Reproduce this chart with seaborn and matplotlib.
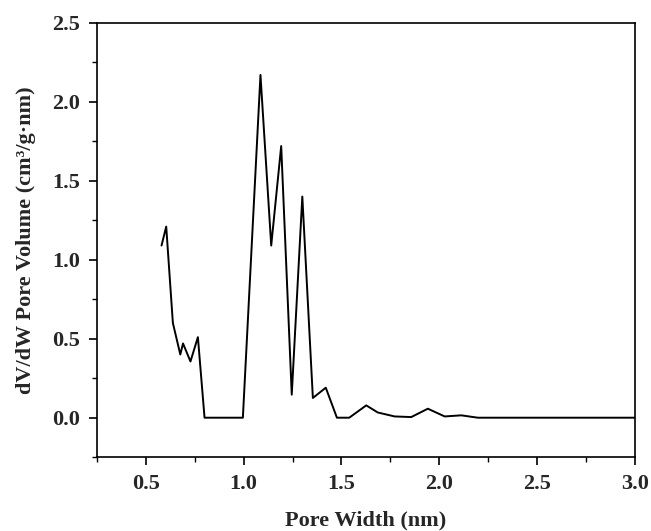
import matplotlib
matplotlib.use("Agg")
import matplotlib.pyplot as plt
import seaborn as sns
import pandas as pd
from matplotlib.ticker import MultipleLocator

pore_width = [0.58, 0.604, 0.638, 0.676, 0.69, 0.728, 0.766, 0.80, 0.90, 0.996,
              1.086, 1.141, 1.192, 1.246, 1.30, 1.354, 1.42, 1.477, 1.54, 1.627,
              1.686, 1.772, 1.857, 1.942, 2.028, 2.113, 2.198, 2.30, 2.40, 2.50,
              2.60, 2.70, 2.80, 2.90, 3.00]
pore_volume = [1.09, 1.21, 0.60, 0.40, 0.47, 0.356, 0.51, 0.0, 0.0, 0.0,
               2.17, 1.09, 1.72, 0.146, 1.40, 0.125, 0.19, 0.0, 0.0, 0.078,
               0.033, 0.008, 0.004, 0.057, 0.008, 0.015, 0.0, 0.0, 0.0, 0.0,
               0.0, 0.0, 0.0, 0.0, 0.0]

x_ticks = [0.5, 1.0, 1.5, 2.0, 2.5, 3.0]
y_ticks = [0.0, 0.5, 1.0, 1.5, 2.0, 2.5]

df = pd.DataFrame({"w": pore_width, "v": pore_volume})

sns.set_theme(style="ticks")
plt.rcParams["font.family"] = ["Liberation Serif", "DejaVu Serif"]
plt.rcParams["font.weight"] = "bold"

fig = plt.figure(figsize=(6.51, 5.31), dpi=100)
ax = fig.add_axes([0.149, 0.139, 0.826, 0.818])

sns.lineplot(data=df, x="w", y="v", ax=ax, color="black", linewidth=1.4,
             estimator=None, sort=False)

ax.set_xlim(0.25, 3.0)
ax.set_ylim(-0.25, 2.5)
ax.set_xticks(x_ticks)
ax.set_yticks(y_ticks)
ax.set_xticklabels([f"{t:.1f}" for t in x_ticks], fontsize=16, fontweight="bold")
ax.set_yticklabels([f"{t:.1f}" for t in y_ticks], fontsize=16, fontweight="bold")
ax.xaxis.set_minor_locator(MultipleLocator(0.25))
ax.yaxis.set_minor_locator(MultipleLocator(0.25))
ax.tick_params(which="major", direction="out", length=6, width=1.2, color="black",
               top=False, right=False, pad=6)
ax.tick_params(which="minor", direction="out", length=3.5, width=1.0, color="black",
               top=False, right=False)
for s in ax.spines.values():
    s.set_visible(True)
    s.set_linewidth(1.2)
    s.set_color("black")

ax.set_xlabel("Pore Width (nm)", fontsize=16, fontweight="bold", labelpad=12)
ax.set_ylabel("dV/dW Pore Volume (cm³/g·nm)", fontsize=16, fontweight="bold", labelpad=12)

fig.savefig("out.png", dpi=100)
